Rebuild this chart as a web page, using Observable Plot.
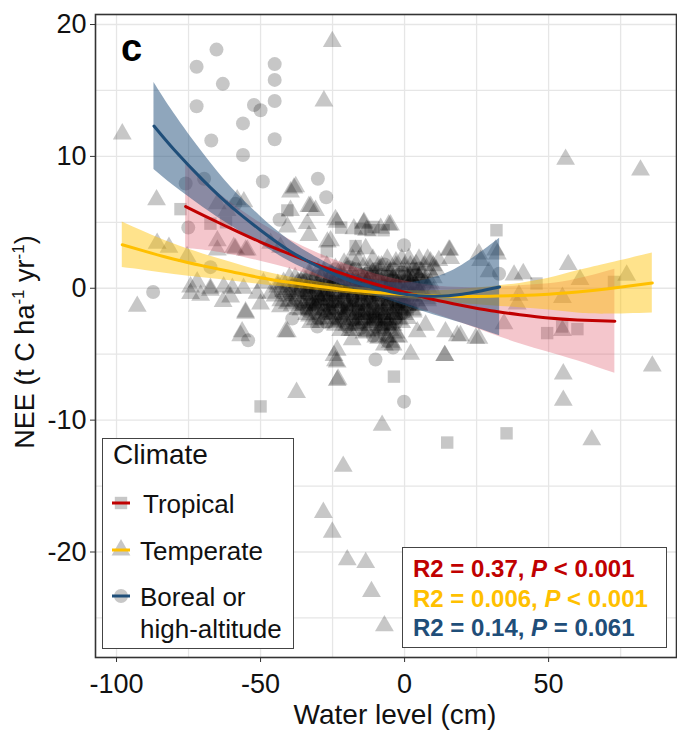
<!DOCTYPE html>
<html>
<head>
<meta charset="utf-8">
<script src="https://cdn.jsdelivr.net/npm/d3@7"></script>
<script src="https://cdn.jsdelivr.net/npm/@observablehq/plot@0.6"></script>
<style>
  html, body { margin: 0; padding: 0; background: #fff; }
  #wrap { position: relative; width: 677px; height: 737px; font-family: "Liberation Sans", Arial, sans-serif; }
  #overlay { position: absolute; left: 0; top: 0; pointer-events: none; }
</style>
</head>
<body>
<div id="wrap"></div>
<script>
// ---------- Fitted curves ----------
const tropicalX   = [-76, -70, -60, -50, -40, -30, -20, -10, 0, 10, 20, 30, 40, 50, 60, 73];
const tropicalFit = [6.2, 5.55, 4.5, 3.5, 2.6, 1.75, 1.0, 0.3, -0.3, -0.85, -1.3, -1.7, -2.0, -2.25, -2.4, -2.5];
const tropicalLo  = [3.0, 2.9, 2.55, 2.05, 1.5, 0.85, 0.2, -0.48, -1.15, -1.9, -2.65, -3.45, -4.2, -4.85, -5.5, -6.45];
const tropicalHi  = [9.4, 8.2, 6.45, 4.95, 3.7, 2.65, 1.8, 1.08, 0.55, 0.2, 0.05, 0.05, 0.2, 0.35, 0.7, 1.45];

const temperateX   = [-98, -90, -80, -70, -60, -50, -40, -30, -20, -10, 0, 10, 20, 30, 40, 50, 60, 70, 86];
const temperateFit = [3.3, 2.8, 2.2, 1.7, 1.25, 0.8, 0.45, 0.15, -0.12, -0.32, -0.47, -0.57, -0.62, -0.6, -0.55, -0.45, -0.28, -0.06, 0.4];
const temperateLo  = [1.57, 1.35, 1.05, 0.8, 0.55, 0.28, 0.05, -0.17, -0.4, -0.6, -0.77, -0.95, -1.17, -1.32, -1.47, -1.65, -1.88, -1.96, -1.87];
const temperateHi  = [5.03, 4.25, 3.35, 2.6, 1.95, 1.32, 0.85, 0.47, 0.16, -0.04, -0.17, -0.19, -0.07, 0.12, 0.37, 0.75, 1.32, 1.84, 2.67];

const borealX   = [-87, -80, -70, -60, -50, -40, -30, -20, -10, 0, 10, 20, 33];
const borealFit = [12.3, 10.5, 8.2, 6.15, 4.4, 2.85, 1.65, 0.65, 0.0, -0.45, -0.6, -0.45, 0.1];
const borealLo  = [9.0, 7.75, 6.15, 4.7, 3.35, 2.05, 1.03, 0.1, -0.6, -1.3, -2.0, -2.65, -3.6];
const borealHi  = [15.6, 13.25, 10.25, 7.6, 5.45, 3.65, 2.27, 1.2, 0.6, 0.4, 0.8, 1.75, 3.8];

// ---------- Observations [water level, NEE] ----------
const tropicalPts = [[-77.8,6.0],[-67.4,4.9],[-40.7,5.9],[-15.3,4.5],[-11.8,4.4],[-17,3.2],[-10.8,4.65],[-7.3,4.4],
  [31.9,4.4],[45.8,0.36],[72.7,0.48],[49.5,-3.4],[60,-3.1],[54.7,-2.9],[-3.7,-6.7],[14.8,-11.7],[35.4,-11.0],[-50,-8.96],
  [-62,5.0],[-22,4.6],[-27,2.8]];
const tropicalCore = [[-23,1.0],[-16,0.4],[-10,-0.2],[-4,0.6],[-28,-0.8],[-20,-1.3],[-13,-0.8],[-7,-1.9],[-1,-0.5],[3,1.0],
  [-34,-1.5],[-25,-1.0],[-17,0.0],[-11,1.3],[-5,-2.7],[-2,-1.0],[-30,0.0],[-14,-2.3],[-8,0.1],[1,-1.6]];
const tropicalDenseRows = [
  [0.9, [-25, -18, -12, -6, 0]],
  [0.3, [-31, -24, -17, -11, -5, 1]],
  [-0.35, [-34, -27, -21, -15, -9, -3, 3]],
  [-1.0, [-30, -24, -18, -12, -6, 0]],
  [-1.7, [-26, -20, -14, -8, -3]],
  [-2.4, [-16, -11, -7]]
];

const temperatePts = [[-25.1,18.7],[-28,14.2],[-98,11.7],[-86.1,6.7],[-92.8,-1.37],[-37.8,7.7],[-32.6,6.2],[-24,5.2],
  [-85.9,3.4],[-81.8,3.1],[-75.5,2.4],[-65,3.6],[-74.3,-0.4],[-55.2,-1.8],[-40.7,-3.3],[-56.4,-3.3],[-65,6.4],[-55.8,6.55],
  [-67.4,0],[-72,0.48],[-65,2.9],[-61.6,5.9],[-59.8,0],
  [-23.4,-4.7],[-24,-5.5],[-23.1,-6.9],[-37.5,-7.9],[-7.8,-10.4],[-21.3,-13.5],[-28.2,-17.0],[-25.1,-18.5],[-19.9,-20.6],
  [-13.5,-20.8],[-11.5,-23.0],[-7,-25.6],
  [13.9,-5.1],[55.1,-6.5],[55.1,-8.5],[65,-11.5],[86,-5.9],[25.8,-3.8],[18.3,-3.6],
  [55.9,9.77],[81.9,8.96],[56.8,1.8],[60.9,0.66],[77.1,0.99],[-5.5,4.8],[15.7,2.9],[38,1.0],[41.2,1.1],[54.8,-0.7],
  [39.7,-0.53],[16,2.25],[25.8,2.6],[32.2,2.6],[54.8,-3.2],[39.1,-1.2],[34.5,-2.7],[29.3,1.24],[26.4,2.1],[31.6,2.9],
  [-14.1,5.0],[-4.9,4.8],[-13.2,4.4],[-17,2.9],[-13.5,3.0],[15.4,2.9],[9,2.0],[11.9,2.1],[1.5,2.25],
  [-38.4,7.6],[-39.6,5.9],[-33.2,6.2],[-30.9,5.9],[-23.4,5.0],[-58.1,6.7],[-40.7,4.65],[-33.2,4.0],[-26.8,3.5],[-17.6,4.5],
  [-58.7,3.0],[-55.2,2.9],[-43.1,3.1],[-39.6,7.3],[-33.8,4.9],[-25.7,3.6],[-14.2,4.9],[-8.3,4.55],
  [-59.3,3.1],[-54.6,2.9],[-46.5,3.4],
  [-55.2,-1.9],[-56.9,-3.6],[-41.3,-3.3],[-43.1,-1.4],[-32.6,-2.6],[-24.5,-2.6],[-22.2,-3.2],[-18.2,-3.9],[-24.5,-5.1],
  [-23.4,-5.6],[-23.4,-7.0],[-28,-2.3],[-17.6,-2.8],[-14.1,-3.4],[7.3,-2.8],[14.2,-3.3],[19.4,-3.6],[24.7,-3.8],[2.1,-5.0],
  [14,-5.1],[4.4,-3.3],
  [-74.3,0.1],[-70.8,-0.53],[-67.4,-0.15],[-62.8,0.1],[-60.4,-0.66],[-55.9,0],[-51.2,-0.38],[-46.5,-0.38],[-40.7,-1.14],
  [-32.6,-1.14],[-49,0.4],[-63,-1.0],[-50,-1.2]];
const temperateCore = [
  [-21,1.9],[-16,2.1],[-9,1.7],[-3,2.0],[4,1.8],[8,2.2],
  [-30,1.3],[-24,1.5],[-18,1.2],[-12,1.5],[-6,1.3],[0,1.6],[6,1.2],[11,1.4],
  [-38,0.8],[-33,1.0],[-27,0.7],[-21,0.9],[-15,0.8],[-10,1.0],[-4,0.7],[2,0.9],[7,0.6],
  [-44,0.3],[-36,0.5],[-30,0.3],[-25,0.4],[-19,0.2],[-13,0.5],[-7,0.3],[-2,0.4],[4,0.2],[9,0.4],
  [-41,-0.1],[-34,0.0],[-28,-0.2],[-22,0.1],[-17,-0.1],[-11,0.0],[-5,-0.2],[1,0.0],[6,-0.3],
  [-45,-0.6],[-38,-0.4],[-32,-0.5],[-26,-0.6],[-20,-0.4],[-14,-0.5],[-8,-0.6],[-3,-0.4],[3,-0.6],[8,-0.8],
  [-40,-1.0],[-35,-1.1],[-29,-0.9],[-23,-1.1],[-17,-1.0],[-11,-1.2],[-5,-0.9],[0,-1.1],[5,-1.3],
  [-37,-1.6],[-31,-1.4],[-25,-1.6],[-19,-1.5],[-13,-1.4],[-8,-1.6],[-2,-1.5],[3,-1.8],
  [-33,-2.1],[-27,-1.9],[-21,-2.1],[-15,-2.0],[-10,-2.2],[-4,-2.0],[1,-2.3],
  [-29,-2.6],[-23,-2.5],[-17,-2.7],[-12,-2.6],[-6,-2.8],[-1,-2.6],
  [-19,-3.2],[-13,-3.3],[-8,-3.1],[-3,-3.4],
  [-9,-3.8],[-5,-4.1],[-2,-3.7]];
// densest part of the cloud, row by row (NEE, then water levels in that row)
const temperateDenseRows = [
  [2.2, [-18, -11, -6, -1, 5]],
  [1.7, [-27, -20, -14, -8, -3, 2, 7, 10]],
  [1.2, [-33, -28, -22, -16, -11, -5, 0, 4, 9]],
  [0.8, [-40, -35, -29, -24, -19, -14, -9, -4, 1, 5, 10]],
  [0.45, [-42, -37, -32, -27, -22, -18, -13, -8, -3, 2, 7]],
  [0.1, [-44, -39, -34, -30, -25, -20, -16, -11, -6, -1, 4, 8]],
  [-0.25, [-42, -37, -33, -28, -23, -19, -14, -9, -4, 0, 5, 10]],
  [-0.6, [-40, -35, -30, -26, -21, -16, -12, -7, -2, 2, 6]],
  [-0.95, [-43, -38, -33, -29, -24, -19, -15, -10, -5, -1, 4, 8]],
  [-1.3, [-39, -35, -31, -26, -22, -17, -13, -8, -3, 1, 5]],
  [-1.65, [-36, -32, -28, -23, -19, -15, -10, -6, -2, 3]],
  [-2.0, [-34, -29, -25, -21, -17, -12, -8, -4, 0]],
  [-2.4, [-31, -26, -22, -18, -14, -10, -6, -2]],
  [-2.8, [-24, -20, -16, -12, -8, -4]],
  [-3.2, [-18, -13, -9, -5]],
  [-3.7, [-10, -6, -3]],
  [-4.3, [-7, -4]]
];

const borealPts = [[-65.3,18.1],[-72.2,16.8],[-45.1,17.0],[-45.1,15.8],[-63.1,15.5],[-72.2,13.8],[-45.1,14.2],[-52.3,13.9],
  [-50,13.5],[-56.1,12.5],[-67.1,11.2],[-45.1,11.3],[-56.1,10.1],[-49.2,8.1],[-30.1,8.3],[-27.2,6.9],[-69.6,8.3],[-76,7.95],
  [-75.1,4.6],[-58.7,6.4],[-43.4,5.2],[-87.3,-0.28],[-54.3,-3.95],[-10.1,-5.4],[-0.2,-8.6],[-0.2,3.26],[32.8,1.1],
  [-39,-2.3],[-30.3,-2.9],[-10.1,-2.2],[-7.3,-3.0],[-67.4,1.6]];
const borealCore = [
  [-26,1.2],[-19,1.6],[-13,1.1],[-7,1.8],[-1,1.2],[5,1.5],
  [-36,0.6],[-31,0.9],[-24,0.8],[-17,0.6],[-12,0.7],[-6,0.9],[0,0.5],[5,0.7],
  [-39,0.2],[-33,0.1],[-27,0.3],[-21,0.5],[-15,0.2],[-9,0.3],[-3,0.1],[3,0.3],
  [-43,-0.3],[-36,-0.2],[-30,-0.6],[-24,-0.3],[-18,-0.7],[-12,-0.3],[-6,-0.4],[0,-0.7],[5,-0.2],
  [-38,-0.8],[-32,-1.2],[-27,-1.3],[-21,-0.8],[-15,-1.2],[-9,-0.9],[-3,-1.2],[2,-1.4],
  [-34,-1.7],[-28,-1.7],[-22,-1.5],[-16,-1.7],[-11,-1.8],[-6,-1.3],[-1,-1.9],
  [-30,-2.3],[-24,-2.2],[-18,-2.4],[-13,-2.2],[-8,-2.5],[-3,-2.3],
  [-20,-2.9],[-15,-3.0],[-10,-2.9],[-5,-3.0],
  [-11,-3.6],[-7,-3.5],[-4,-4.5],[-6,-4.0]];
const borealDenseRows = [
  [1.45, [-24, -17, -10, -4, 3]],
  [1.0, [-29, -22, -15, -8, -2, 4]],
  [0.6, [-34, -26, -20, -15, -10, -5, 0, 6]],
  [0.25, [-38, -33, -28, -23, -19, -13, -8, -3, 2, 7]],
  [-0.1, [-36, -31, -26, -21, -16, -12, -7, -2, 3]],
  [-0.45, [-40, -34, -29, -25, -20, -15, -10, -5, -1, 4]],
  [-0.8, [-33, -28, -23, -18, -13, -9, -4, 1]],
  [-1.15, [-36, -31, -26, -21, -16, -11, -6, -2, 3]],
  [-1.5, [-30, -25, -20, -16, -11, -6, -1]],
  [-1.85, [-31, -26, -21, -17, -13, -9, -4, 0]],
  [-2.2, [-22, -17, -12, -7, -3]],
  [-2.6, [-27, -21, -15, -10, -6, -3]]
];

// ---------- Ticks & labels ----------
const xTicks = [-100, -50, 0, 50];
const xGrid = [-100, -75, -50, -25, 0, 25, 50, 75];
const yTicks = [-20, -10, 0, 10, 20];
const yGrid = [-25, -20, -15, -10, -5, 0, 5, 10, 15, 20];
const climates = ["Tropical", "Temperate", "Boreal or high-altitude"];
const colors = ["#c00000", "#ffc000", "#1f4e79"];
const statsR2 = ["0.37", "0.006", "0.14"];
const statsP = ["< 0.001", "< 0.001", "= 0.061"];

// ---------- Build tables ----------
const curve = (xs, fit, lo, hi) => xs.map((x, i) => ({x, fit: fit[i], lo: lo[i], hi: hi[i]}));
const tropCurve = curve(tropicalX, tropicalFit, tropicalLo, tropicalHi);
const tempCurve = curve(temperateX, temperateFit, temperateLo, temperateHi);
const borCurve = curve(borealX, borealFit, borealLo, borealHi);
const pts = (arr) => arr.map(([x, y]) => ({x, y}));
const rows = (r) => r.flatMap(([y, xs]) => xs.map(x => ({x, y})));

const dotStyle = {x: "x", y: "y", r: 7, fill: "black", fillOpacity: 0.22, stroke: "none"};

const chart = Plot.plot({
  width: 677,
  height: 737,
  marginLeft: 95,
  marginRight: 1,
  marginTop: 14,
  marginBottom: 80,
  style: {fontFamily: "Liberation Sans, Arial, sans-serif", fontSize: "27px", color: "#111", background: "white"},
  x: {domain: [-107.3, 94.4]},
  y: {domain: [-28, 20.76]},
  marks: [
    Plot.gridX(xGrid, {stroke: "#e6e6e6", strokeOpacity: 1, strokeWidth: 1.3}),
    Plot.gridY(yGrid, {stroke: "#e6e6e6", strokeOpacity: 1, strokeWidth: 1.3}),
    Plot.dot(pts(tropicalPts), {...dotStyle, symbol: "square"}),
    Plot.dot(pts(tropicalCore), {...dotStyle, symbol: "square"}),
    Plot.dot(rows(tropicalDenseRows), {...dotStyle, symbol: "square"}),
    Plot.dot(pts(temperatePts), {...dotStyle, symbol: "triangle"}),
    Plot.dot(pts(temperateCore), {...dotStyle, symbol: "triangle"}),
    Plot.dot(rows(temperateDenseRows), {...dotStyle, symbol: "triangle"}),
    Plot.dot(pts(borealPts), {...dotStyle, symbol: "circle"}),
    Plot.dot(pts(borealCore), {...dotStyle, symbol: "circle"}),
    Plot.dot(rows(borealDenseRows), {...dotStyle, symbol: "circle"}),
    Plot.areaY(tropCurve, {x: "x", y1: "lo", y2: "hi", fill: "#dc4f5f", fillOpacity: 0.32, curve: "natural"}),
    Plot.areaY(tempCurve, {x: "x", y1: "lo", y2: "hi", fill: "#ffc000", fillOpacity: 0.45, curve: "natural"}),
    Plot.areaY(borCurve, {x: "x", y1: "lo", y2: "hi", fill: "#1f4e79", fillOpacity: 0.5, curve: "natural"}),
    Plot.lineY(tropCurve, {x: "x", y: "fit", stroke: colors[0], strokeWidth: 3, curve: "natural"}),
    Plot.lineY(tempCurve, {x: "x", y: "fit", stroke: colors[1], strokeWidth: 3, curve: "natural"}),
    Plot.lineY(borCurve, {x: "x", y: "fit", stroke: colors[2], strokeWidth: 3, curve: "natural"}),
    Plot.frame({stroke: "#333", strokeWidth: 1.6}),
    Plot.axisX({ticks: xTicks, tickSize: 5, tickPadding: 11, tickFormat: d => String(d), stroke: "#333",
      fontSize: 27, label: null}),
    Plot.axisY({ticks: yTicks, tickSize: 5, tickPadding: 4, tickFormat: d => String(d), stroke: "#333",
      fontSize: 27, label: null})
  ]
});

const wrap = document.getElementById("wrap");
wrap.appendChild(chart);

// ---------- Overlay: panel tag, axis titles, legend, statistics ----------
const ns = "http://www.w3.org/2000/svg";
const ov = d3.select(wrap).append("svg").attr("id", "overlay")
  .attr("xmlns", ns).attr("width", 677).attr("height", 737)
  .style("font-family", "Liberation Sans, Arial, sans-serif");

ov.append("text").attr("x", 121).attr("y", 61).attr("font-size", 38).attr("font-weight", "bold").text("c");

// x axis title
ov.append("text").attr("x", 395).attr("y", 724).attr("text-anchor", "middle").attr("font-size", 28)
  .attr("fill", "#111").text("Water level (cm)");

// y axis title with superscripts
const yt = ov.append("text").attr("transform", "translate(34,342) rotate(-90)")
  .attr("text-anchor", "middle").attr("font-size", 27).attr("fill", "#111");
yt.append("tspan").text("NEE (t C ha");
yt.append("tspan").attr("font-size", 17).attr("dy", -10).text("-1");
yt.append("tspan").attr("dy", 10).text(" yr");
yt.append("tspan").attr("font-size", 17).attr("dy", -10).text("-1");
yt.append("tspan").attr("dy", 10).text(")");

// legend box
const lg = ov.append("g");
lg.append("rect").attr("x", 102.5).attr("y", 438.5).attr("width", 191).attr("height", 210)
  .attr("fill", "white").attr("stroke", "#444").attr("stroke-width", 1);
lg.append("text").attr("x", 113).attr("y", 464).attr("font-size", 28).attr("fill", "#111").text("Climate");
const keyY = [503, 550, 596];
const keyShapes = [d3.symbolSquare, d3.symbolTriangle, d3.symbolCircle];
keyShapes.forEach((s, i) => {
  lg.append("path").attr("d", d3.symbol(s, Math.PI * 49)()).attr("transform", `translate(121,${keyY[i]})`)
    .attr("fill", "black").attr("fill-opacity", 0.22);
  lg.append("line").attr("x1", 112).attr("x2", 130).attr("y1", keyY[i]).attr("y2", keyY[i])
    .attr("stroke", colors[i]).attr("stroke-width", 3);
});
lg.append("text").attr("x", 143).attr("y", 513).attr("font-size", 26).attr("fill", "#111").text(climates[0]);
lg.append("text").attr("x", 140).attr("y", 560).attr("font-size", 26).attr("fill", "#111").text(climates[1]);
lg.append("text").attr("x", 140).attr("y", 606).attr("font-size", 26).attr("fill", "#111").text("Boreal or");
lg.append("text").attr("x", 140).attr("y", 638).attr("font-size", 26).attr("fill", "#111").text("high-altitude");

// statistics box
const st = ov.append("g");
st.append("rect").attr("x", 402.5).attr("y", 547.5).attr("width", 264).attr("height", 100)
  .attr("fill", "white").attr("stroke", "#444").attr("stroke-width", 1);
[577, 607, 636].forEach((yy, i) => {
  const t = st.append("text").attr("x", 413).attr("y", yy).attr("font-size", 24).attr("font-weight", "bold")
    .attr("fill", colors[i]);
  t.append("tspan").text(`R2 = ${statsR2[i]}, `);
  t.append("tspan").attr("font-style", "italic").text("P");
  t.append("tspan").text(` ${statsP[i]}`);
});
</script>
</body>
</html>
